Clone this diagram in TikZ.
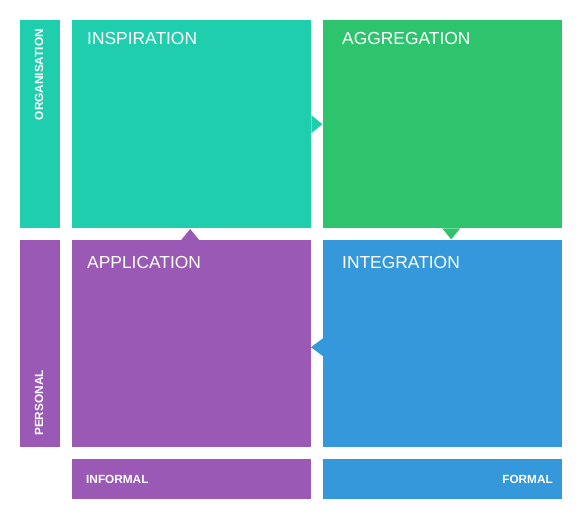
\documentclass[tikz,border=0pt]{standalone}
\usepackage{fontspec}
\setmainfont{Liberation Sans}
\definecolor{turq}{RGB}{30,206,172}
\definecolor{emer}{RGB}{46,196,110}
\definecolor{river}{RGB}{52,152,219}
\definecolor{ameth}{RGB}{155,89,182}
\begin{document}
\begin{tikzpicture}[x=1pt, y=-1pt, line join = round,
	quad/.style={rectangle, inner sep=0pt, anchor=north west, minimum width=239pt, minimum height=208pt},
	strip/.style={rectangle, inner sep=0pt, anchor=north west, minimum width=40pt, minimum height=208pt},
	bar/.style={rectangle, inner sep=0pt, anchor=north west, minimum width=239pt, minimum height=40pt},
	title/.style={text=white, font=\fontsize{17.4}{19}\selectfont, inner sep=0pt, anchor=base west},
	tag/.style={text=white, font=\fontsize{11.8}{13}\selectfont\bfseries, inner sep=0pt}]
	\useasboundingbox (0,0) rectangle (581,518);
	\node[strip, fill=turq] (org) at (20,20) {};
	\node[strip, fill=ameth, minimum height=207pt] (pers) at (20,240) {};
	\node[quad, fill=turq] (insp) at (72,20) {};
	\node[quad, fill=emer] (aggr) at (323,20) {};
	\node[quad, fill=ameth, minimum height=207pt] (appl) at (72,240) {};
	\node[quad, fill=river, minimum height=207pt] (integ) at (323,240) {};
	\node[bar, fill=ameth] (inf) at (72,459) {};
	\node[bar, fill=river] (form) at (323,459) {};
	% pointers between the quadrants
	\fill[turq] ([yshift=9pt]insp.east) -- ++(11pt,-9pt) -- ++(-11pt,-9pt) -- cycle;
	\fill[emer] ([xshift=8.5pt]aggr.south) ++(-9pt,0pt) -- ++(9pt,-11pt) -- ++(9pt,11pt) -- cycle;
	\fill[river] ([yshift=-3.5pt]integ.west) ++(0pt,9pt) -- ++(-12pt,-9pt) -- ++(12pt,-9pt) -- cycle;
	\fill[ameth] ([xshift=-1.5pt]appl.north) ++(-9pt,0pt) -- ++(9pt,11pt) -- ++(9pt,-11pt) -- cycle;
	\node[title] (tinsp) at (87,45) {INSPIRATION};
	\node[title] (taggr) at (342,45) {AGGREGATION};
	\node[title] (tappl) at (87,269) {APPLICATION};
	\node[title] (tinteg) at (342,269) {INTEGRATION};
	\node[tag, rotate=90, anchor=base east] (torg) at (43,29) {ORGANISATION};
	\node[tag, rotate=90, anchor=base west] (tpers) at (43,436) {PERSONAL};
	\node[tag, anchor=base west] (tinf) at (86,483) {INFORMAL};
	\node[tag, anchor=base east] (tform) at (553,483) {FORMAL};
\end{tikzpicture}
\end{document}
